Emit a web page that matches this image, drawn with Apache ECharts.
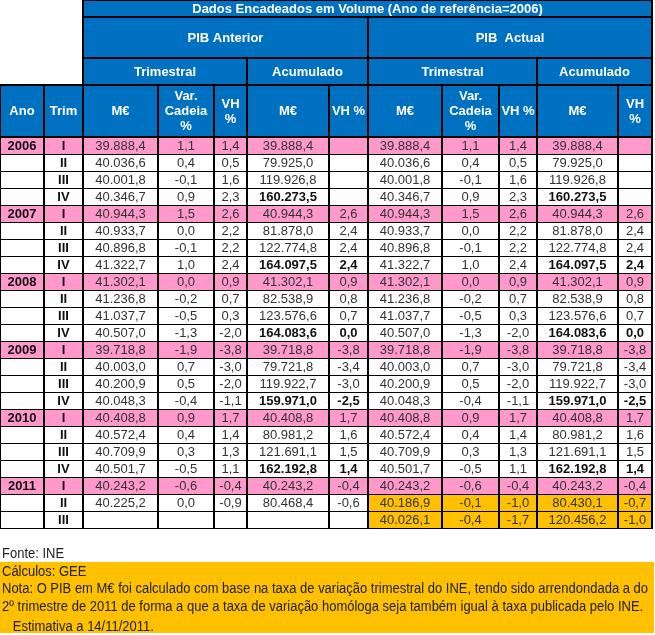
<!DOCTYPE html>
<html><head><meta charset="utf-8">
<script src="https://cdn.jsdelivr.net/npm/echarts@6/dist/echarts.min.js"></script>
<style>html,body{margin:0;padding:0;background:#fff}#c{width:655px;height:635px}</style>
</head><body><div id="c"></div>
<script>
// ---------------- DATA ----------------
const title = 'Dados Encadeados em Volume (Ano de referência=2006)';
const groupLabels = ['PIB Anterior', 'PIB  Actual'];
const subGroupLabels = ['Trimestral', 'Acumulado'];
const colHeaders = ['Ano', 'Trim', 'M€', 'Var.\nCadeia\n%', 'VH\n%', 'M€', 'VH %', 'M€', 'Var.\nCadeia\n%', 'VH %', 'M€', 'VH\n%'];

const years    = ['2006','','','', '2007','','','', '2008','','','', '2009','','','', '2010','','','', '2011','',''];
const quarters = ['I','II','III','IV', 'I','II','III','IV', 'I','II','III','IV', 'I','II','III','IV', 'I','II','III','IV', 'I','II','III'];

const anteriorTrimMEUR = [39888.4,40036.6,40001.8,40346.7, 40944.3,40933.7,40896.8,41322.7, 41302.1,41236.8,41037.7,40507.0, 39718.8,40003.0,40200.9,40048.3, 40408.8,40572.4,40709.9,40501.7, 40243.2,40225.2,null];
const anteriorVarCadeia = [1.1,0.4,-0.1,0.9, 1.5,0.0,-0.1,1.0, 0.0,-0.2,-0.5,-1.3, -1.9,0.7,0.5,-0.4, 0.9,0.4,0.3,-0.5, -0.6,0.0,null];
const anteriorVH = [1.4,0.5,1.6,2.3, 2.6,2.2,2.2,2.4, 0.9,0.7,0.3,-2.0, -3.8,-3.0,-2.0,-1.1, 1.7,1.4,1.3,1.1, -0.4,-0.9,null];
const anteriorAcumMEUR = [39888.4,79925.0,119926.8,160273.5, 40944.3,81878.0,122774.8,164097.5, 41302.1,82538.9,123576.6,164083.6, 39718.8,79721.8,119922.7,159971.0, 40408.8,80981.2,121691.1,162192.8, 40243.2,80468.4,null];
const anteriorAcumVH = [null,null,null,null, 2.6,2.4,2.4,2.4, 0.9,0.8,0.7,0.0, -3.8,-3.4,-3.0,-2.5, 1.7,1.6,1.5,1.4, -0.4,-0.6,null];

const actualTrimMEUR = [39888.4,40036.6,40001.8,40346.7, 40944.3,40933.7,40896.8,41322.7, 41302.1,41236.8,41037.7,40507.0, 39718.8,40003.0,40200.9,40048.3, 40408.8,40572.4,40709.9,40501.7, 40243.2,40186.9,40026.1];
const actualVarCadeia = [1.1,0.4,-0.1,0.9, 1.5,0.0,-0.1,1.0, 0.0,-0.2,-0.5,-1.3, -1.9,0.7,0.5,-0.4, 0.9,0.4,0.3,-0.5, -0.6,-0.1,-0.4];
const actualVH = [1.4,0.5,1.6,2.3, 2.6,2.2,2.2,2.4, 0.9,0.7,0.3,-2.0, -3.8,-3.0,-2.0,-1.1, 1.7,1.4,1.3,1.1, -0.4,-1.0,-1.7];
const actualAcumMEUR = [39888.4,79925.0,119926.8,160273.5, 40944.3,81878.0,122774.8,164097.5, 41302.1,82538.9,123576.6,164083.6, 39718.8,79721.8,119922.7,159971.0, 40408.8,80981.2,121691.1,162192.8, 40243.2,80430.1,120456.2];
const actualAcumVH = [null,null,null,null, 2.6,2.4,2.4,2.4, 0.9,0.8,0.7,0.0, -3.8,-3.4,-3.0,-2.5, 1.7,1.6,1.5,1.4, -0.4,-0.7,-1.0];
const estimatedRows = [21, 22]; // rows that are estimates (PIB Actual)

const footerSource = 'Fonte: INE';
const footerLines = [
  'Cálculos: GEE',
  'Nota: O PIB em M€ foi calculado com base na taxa de variação trimestral do INE, tendo sido arrendondada a do',
  '2º trimestre de 2011 de forma a que a taxa de variação homóloga seja também igual à taxa publicada pelo INE.',
  '   Estimativa a 14/11/2011.'
];

// ---------------- LAYOUT / STYLE ----------------
const W = 655, H = 635;
const colEdges = [0,44,83,158,214,247,329,368,442,499,537,618,652];
const headRowEdges = [0,17,58,85,137];
const dataTop = 137, rowH = 17;
const BLUE = '#0070C0', PINK = '#FF99CC', ORANGE = '#FFC000';
const FONT = '"Liberation Sans", Arial, sans-serif';

function fmt(v){
  if (v === null || v === undefined) return '';
  const neg = v < 0;
  const s = Math.abs(v).toFixed(1);
  let [ip, dp] = s.split('.');
  ip = ip.replace(/\B(?=(\d{3})+(?!\d))/g, '.');
  return (neg ? '-' : '') + ip + ',' + dp;
}

const cells = [];   // {x0,y0,x1,y1,text,fill,color,bold,head}
function addCell(c0, c1, y0, y1, text, opt){
  cells.push(Object.assign({x0: colEdges[c0], x1: colEdges[c1], y0, y1, text}, opt));
}
// header
const hOpt = {fill: BLUE, color: '#fff', bold: true, head: true};
addCell(2, 12, headRowEdges[0], headRowEdges[1], title, hOpt);
addCell(2, 7, headRowEdges[1], headRowEdges[2], groupLabels[0], hOpt);
addCell(7, 12, headRowEdges[1], headRowEdges[2], groupLabels[1], hOpt);
addCell(2, 5, headRowEdges[2], headRowEdges[3], subGroupLabels[0], hOpt);
addCell(5, 7, headRowEdges[2], headRowEdges[3], subGroupLabels[1], hOpt);
addCell(7, 10, headRowEdges[2], headRowEdges[3], subGroupLabels[0], hOpt);
addCell(10, 12, headRowEdges[2], headRowEdges[3], subGroupLabels[1], hOpt);
colHeaders.forEach((t, i) => addCell(i, i + 1, headRowEdges[3], headRowEdges[4], t, hOpt));
// body
const colSeries = [null, null, anteriorTrimMEUR, anteriorVarCadeia, anteriorVH, anteriorAcumMEUR, anteriorAcumVH,
                   actualTrimMEUR, actualVarCadeia, actualVH, actualAcumMEUR, actualAcumVH];
quarters.forEach((q, r) => {
  const y0 = dataTop + r * rowH, y1 = y0 + rowH;
  const pink = q === 'I';
  for (let c = 0; c < 12; c++) {
    let text, bold = false;
    if (c === 0) { text = years[r]; bold = true; }
    else if (c === 1) { text = q; bold = true; }
    else { text = fmt(colSeries[c][r]); bold = (q === 'IV') && (c === 5 || c === 6 || c === 10 || c === 11); }
    let fill = pink ? PINK : '#fff';
    if (c >= 7 && estimatedRows.indexOf(r) >= 0) fill = ORANGE;
    addCell(c, c + 1, y0, y1, text, {fill, color: bold ? '#111' : '#333', bold, head: false});
  }
});

// grid lines derived from cells
const lineMap = {};
const lines = [];
cells.forEach(c => {
  const hw = c.head ? 2 : 1;
  const segs = [
    [c.x0, c.y0, c.x1, c.y0, hw], [c.x0, c.y1, c.x1, c.y1, c.head ? 2 : 1],
    [c.x0, c.y0, c.x0, c.y1, 2], [c.x1, c.y0, c.x1, c.y1, 2]
  ];
  segs.forEach(s => {
    const k = s.slice(0, 4).join(',');
    if (!lineMap[k] || lineMap[k][4] < s[4]) { lineMap[k] = s; }
  });
});
Object.keys(lineMap).forEach(k => lines.push(lineMap[k]));

// ---------------- CHART ----------------
const chart = echarts.init(document.getElementById('c'), null, {renderer: 'canvas'});

// footer text horizontal compression (narrow font look)
const ctx = document.createElement('canvas').getContext('2d');
ctx.font = '14px ' + FONT;
const footScale = 646 / ctx.measureText(footerLines[1]).width;

function renderCell(params, api){
  const c = cells[params.dataIndex];
  const p0 = api.coord([api.value(0), api.value(1)]);
  const p1 = api.coord([api.value(2), api.value(3)]);
  const children = [{
    type: 'rect', shape: {x: p0[0], y: p0[1], width: p1[0] - p0[0], height: p1[1] - p0[1]},
    style: {fill: c.fill}
  }];
  if (c.text) {
    children.push({
      type: 'text', x: (p0[0] + p1[0]) / 2, y: (p0[1] + p1[1]) / 2 + 0.5,
      style: {
        text: c.text, fill: c.color, align: 'center', verticalAlign: 'middle',
        font: (c.bold ? 'bold ' : '') + '13px ' + FONT, lineHeight: 15
      }
    });
  }
  return {type: 'group', children};
}
function renderLine(params, api){
  const w = api.value(4);
  const p0 = api.coord([api.value(0), api.value(1)]);
  const p1 = api.coord([api.value(2), api.value(3)]);
  let x1 = p0[0], y1 = p0[1], x2 = p1[0], y2 = p1[1];
  if (y1 === y2) { const off = (w % 2) ? 0.5 : 0; y1 += off; y2 += off; x1 -= 1; x2 += 1; }
  else { const off = (w % 2) ? 0.5 : 0; x1 += off; x2 += off; }
  return {type: 'line', shape: {x1, y1, x2, y2}, style: {stroke: '#000', lineWidth: w}};
}

const graphics = [
  {type: 'rect', left: 0, top: 562, shape: {width: 654, height: 71}, style: {fill: ORANGE}, z: -1},
  {type: 'text', x: 2, y: 554, scaleX: footScale, style: {text: footerSource, font: '14px ' + FONT, fill: '#222', verticalAlign: 'middle'}}
];
const footY = [572, 589, 607, 627];
footerLines.forEach((t, i) => graphics.push({
  type: 'text', x: 2, y: footY[i], scaleX: footScale,
  style: {text: t, font: '14px ' + FONT, fill: '#222', verticalAlign: 'middle'}
}));

chart.setOption({
  animation: false,
  grid: {left: 0, right: 0, top: 0, bottom: 0},
  xAxis: {type: 'value', min: 0, max: W, show: false},
  yAxis: {type: 'value', min: 0, max: H, inverse: true, show: false},
  series: [
    {type: 'custom', renderItem: renderCell, clip: false, silent: true, z: 2,
     data: cells.map(c => [c.x0, c.y0, c.x1, c.y1])},
    {type: 'custom', renderItem: renderLine, clip: false, silent: true, z: 3,
     data: lines}
  ],
  graphic: graphics
});
</script>
</body></html>
